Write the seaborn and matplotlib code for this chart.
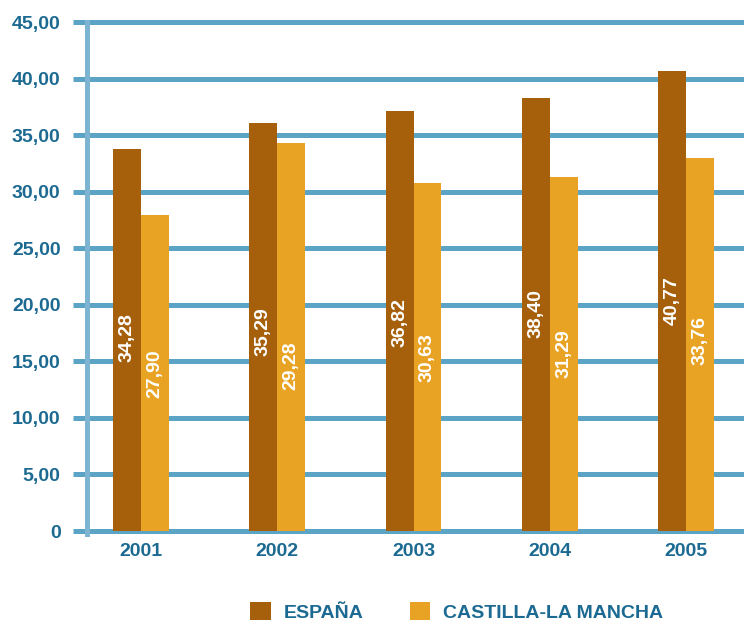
import pandas as pd
import matplotlib
matplotlib.use("Agg")
import matplotlib.pyplot as plt
from matplotlib.patches import Patch
import seaborn as sns

# data
years = ["2001", "2002", "2003", "2004", "2005"]
series = ["ESPAÑA", "CASTILLA-LA MANCHA"]
espana_bars = [33.8, 36.1, 37.1, 38.3, 40.7]
clm_bars = [27.9, 34.3, 30.8, 31.3, 33.0]
espana_labels = [34.28, 35.29, 36.82, 38.40, 40.77]
clm_labels = [27.90, 29.28, 30.63, 31.29, 33.76]
y_ticks = [0, 5, 10, 15, 20, 25, 30, 35, 40, 45]

colors = ["#a6600b", "#e9a324"]
grid_col = "#5ca4c5"
spine_col = "#7cb4d2"
text_col = "#1c6a92"

sns.set_theme(style="white")
plt.rcParams["font.family"] = ["Liberation Sans", "DejaVu Sans"]
plt.rcParams["font.weight"] = "bold"

df = pd.DataFrame({
    "year": years * 2,
    "serie": [series[0]] * 5 + [series[1]] * 5,
    "valor": espana_bars + clm_bars,
})

fig = plt.figure(figsize=(7.44, 6.24), dpi=100)
ax = fig.add_axes([87 / 744, (624 - 535) / 624, 1 - 87 / 744, (535 - 18) / 624])

sns.barplot(data=df, x="year", y="valor", hue="serie", palette=colors,
            width=0.41, gap=0, saturation=1, legend=False, ax=ax, zorder=2,
            linewidth=0, edgecolor="none")

# value labels (rotated, white, centred at half of the printed value)
for i in range(len(years)):
    for j, vals in enumerate([espana_labels, clm_labels]):
        xpos = i + (-0.1025 if j == 0 else 0.1025)
        ax.text(xpos, vals[i] / 2, f"{vals[i]:.2f}".replace(".", ","),
                rotation=90, ha="center", va="center", color="white",
                fontsize=14, fontweight="bold", zorder=3)

unit = (531 - 22) / 45
ax.set_ylim(-4 / unit, 45 + 4 / unit)
ax.set_xlim(-0.396, 4.425)
ax.set_yticks(y_ticks)
ax.set_yticklabels(["0"] + [f"{v:.2f}".replace(".", ",") for v in y_ticks[1:]])
ax.grid(axis="y", color=grid_col, linewidth=3.6)
ax.set_axisbelow(True)
ax.tick_params(axis="y", length=10, width=3.6, color=grid_col, pad=9,
               labelsize=14, labelcolor=text_col, left=True)
ax.tick_params(axis="x", length=0, pad=6, labelsize=14, labelcolor=text_col)
for lab in ax.get_xticklabels() + ax.get_yticklabels():
    lab.set_fontweight("bold")
ax.set_xlabel("")
ax.set_ylabel("")

for s in ["top", "right", "bottom"]:
    ax.spines[s].set_visible(False)
ax.spines["left"].set_color(spine_col)
ax.spines["left"].set_linewidth(3.6)
ax.spines["left"].set_bounds(-0.3, 45)
ax.spines["left"].set_zorder(2.5)

handles = [Patch(facecolor=c, edgecolor="none") for c in colors]
leg = fig.legend(handles, series, loc="center", bbox_to_anchor=(0.614, 0.019),
                 ncol=2, frameon=False, handlelength=1.05, handleheight=1.05,
                 handletextpad=0.65, columnspacing=2.4,
                 prop={"size": 14, "weight": "bold"})
for t in leg.get_texts():
    t.set_color(text_col)

fig.savefig("out.png", dpi=100)
